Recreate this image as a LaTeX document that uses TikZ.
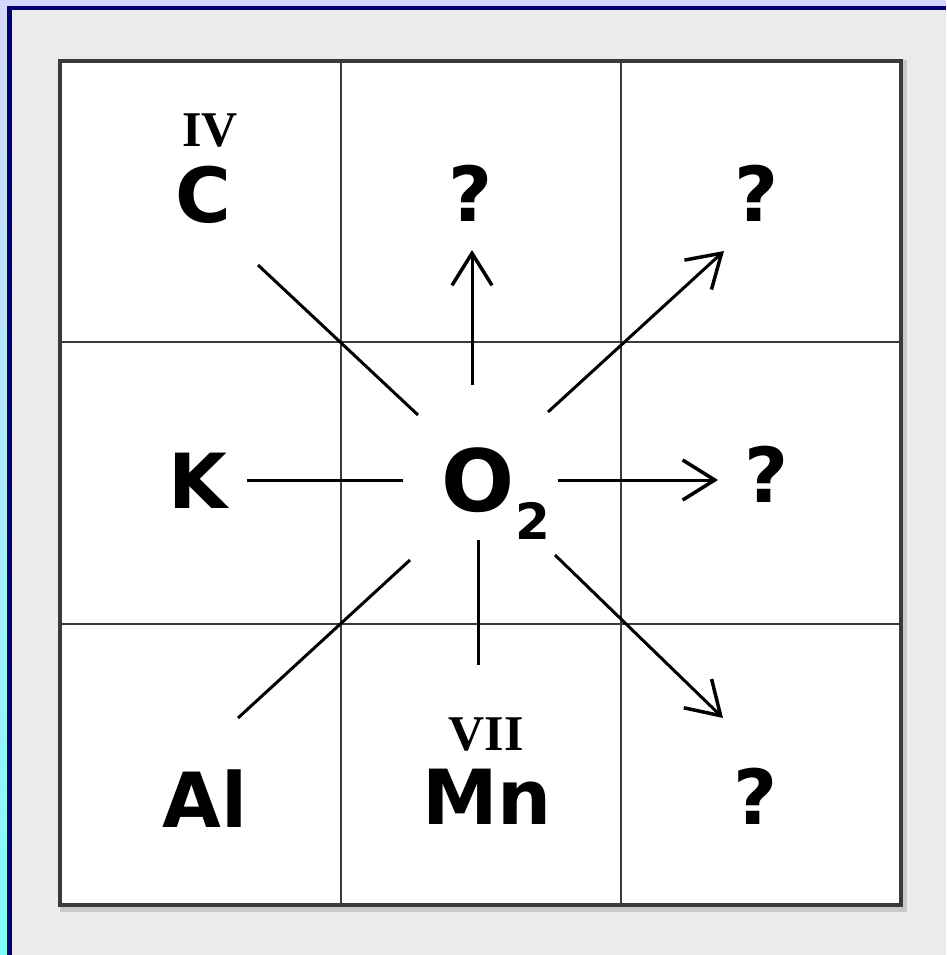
\documentclass[tikz,border=0pt]{standalone}
\usepackage{fontspec}
\setmainfont{DejaVu Sans}
\newfontfamily\romanfont{Liberation Serif}
\usetikzlibrary{arrows.meta}
\definecolor{navy}{HTML}{000070}
\definecolor{lav}{HTML}{D4D8FC}
\definecolor{cyanedge}{HTML}{80FFFF}
\definecolor{panel}{HTML}{EBEBEB}
\definecolor{gridc}{HTML}{3A3A3A}
\tikzset{
  elem/.style={font=\fontsize{76}{76}\selectfont\bfseries, inner sep=0pt},
  valence/.style={font=\fontsize{50}{50}\selectfont\romanfont\bfseries, inner sep=0pt},
  link/.style={line width=3pt, black},
  arr/.style={link, -{Straight Barb[length=32pt, width=40pt, line width=3.5pt]}},
}
\begin{document}
\begin{tikzpicture}[x=1pt,y=-1pt]
\useasboundingbox (0,0) rectangle (946,955);
% outer backdrop
\fill[lav] (0,0) rectangle (946,955);
\shade[top color=lav, bottom color=cyanedge] (0,6) rectangle (8,955);
\fill[navy] (7,6) rectangle (946,10);
\fill[navy] (7,6) rectangle (12,955);
\fill[panel] (12,10) rectangle (946,955);
% grid shadow and cells
\draw[line width=7pt, gray!60, opacity=0.6] (63,64) rectangle (903,908);
\fill[white] (60,61) rectangle (901,905);
\draw[gridc, line width=2.8pt] (341,61) -- (341,905) (621,61) -- (621,905)
  (60,342) -- (901,342) (60,624) -- (901,624);
\draw[gridc, line width=4.5pt] (60,61) rectangle (901,905);
% texts
\node[valence] (iv) at (210,131) {IV};
\node[elem] (c) at (203,195) {C};
\node[elem] (q1) at (471,193) {?};
\node[elem] (q2) at (757,193) {?};
\node[elem] (k) at (198,481) {K};
\node[elem, font=\fontsize{86}{86}\selectfont\bfseries] (o) at (478,480) {O};
\node[elem, font=\fontsize{50}{50}\selectfont\bfseries] (two) at (533,521) {2};
\node[elem] (q3) at (767,474) {?};
\node[elem] (al) at (205,799) {Al};
\node[valence] (vii) at (486,734) {VII};
\node[elem] (mn) at (487,797) {Mn};
\node[elem] (q4) at (756,796) {?};
% connector endpoints
\coordinate (cA) at (258,265);  \coordinate (cB) at (418,415);
\coordinate (uA) at (472,385);  \coordinate (uB) at (472,250);
\coordinate (neA) at (548,412); \coordinate (neB) at (724,251);
\coordinate (kA) at (247,480);  \coordinate (kB) at (403,480);
\coordinate (rA) at (558,480);  \coordinate (rB) at (718,480);
\coordinate (aA) at (238,718);  \coordinate (aB) at (410,560);
\coordinate (mA) at (478,540);  \coordinate (mB) at (478,665);
\coordinate (seA) at (555,555); \coordinate (seB) at (723,718);
% connectors
\draw[link] (cA) -- (cB);
\draw[arr] (uA) -- (uB);
\draw[arr] (neA) -- (neB);
\draw[link] (kA) -- (kB);
\draw[arr] (rA) -- (rB);
\draw[link] (aA) -- (aB);
\draw[link] (mA) -- (mB);
\draw[arr] (seA) -- (seB);
\end{tikzpicture}
\end{document}
